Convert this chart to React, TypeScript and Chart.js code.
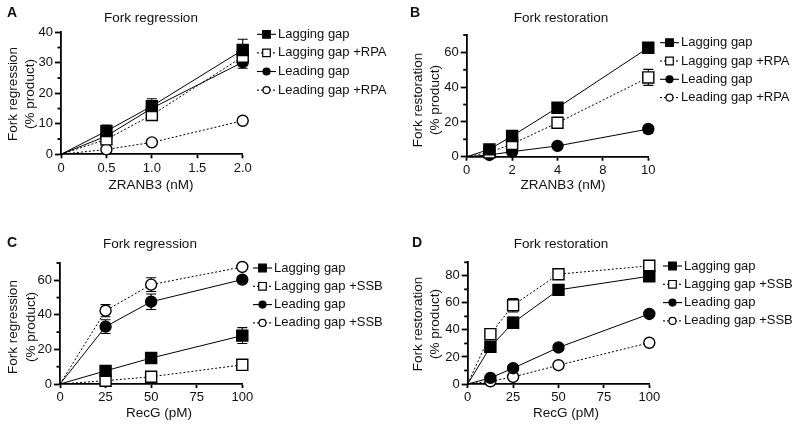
import React, { useEffect, useRef } from "react";
import { Chart, registerables } from "chart.js";
Chart.register(...registerables);

const FONT = "'Liberation Sans', Arial, Helvetica, sans-serif";
const INK = "#111";

// ---------- Panel A ----------
const aTitle = "Fork regression";
const aXTitle = "ZRANB3 (nM)";
const aYTitle = ["Fork regression", "(% product)"];
const aSeries = ["Lagging gap", "Lagging gap +RPA", "Leading gap", "Leading gap +RPA"];
const aXTicks = [0, 0.5, 1, 1.5, 2];
const aXTickLabels = ["0", "0.5", "1.0", "1.5", "2.0"];
const aYTicks = [0, 10, 20, 30, 40];
const aYMinor = [5, 15, 25, 35];
const aDoses = [0, 0.5, 1.0, 2.0];
const aLagging = [0, 7.6, 15.8, 34.2];
const aLaggingErr = [0, 2.0, 2.4, 3.5];
const aLaggingRpa = [0, 4.9, 12.9, 32.0];
const aLaggingRpaErr = [0, 0.8, 1.0, 1.5];
const aLeading = [0, 6.0, 15.1, 30.2];
const aLeadingErr = [0, 0.8, 1.2, 2.0];
const aLeadingRpa = [0, 1.6, 3.9, 11.0];
const aLeadingRpaErr = [0, 0.3, 0.4, 0.6];

// ---------- Panel B ----------
const bTitle = "Fork restoration";
const bXTitle = "ZRANB3 (nM)";
const bYTitle = ["Fork restoration", "(% product)"];
const bSeries = ["Lagging gap", "Lagging gap +RPA", "Leading gap", "Leading gap +RPA"];
const bXTicks = [0, 2, 4, 8, 10];
const bXTickLabels = ["0", "2", "4", "8", "10"];
const bYTicks = [0, 20, 40, 60];
const bYMinor = [10, 30, 50, 70];
const bDoses = [0, 1, 2, 4, 10];
const bLagging = [0, 4.2, 11.9, 28.2, 62.7];
const bLaggingErr = [0, 0.8, 1.2, 2.0, 2.8];
const bLaggingRpa = [0, 2.5, 7.3, 19.5, 45.6];
const bLaggingRpaErr = [0, 0.5, 0.8, 1.2, 4.6];
const bLeading = [0, 1.0, 2.9, 6.2, 15.9];
const bLeadingErr = [0, 0.3, 0.5, 0.8, 2.2];
const bLeadingRpa: (number | null)[] = [null, null, null, null, null];
const bLeadingRpaErr = [0, 0, 0, 0, 0];

// ---------- Panel C ----------
const cTitle = "Fork regression";
const cXTitle = "RecG (pM)";
const cYTitle = ["Fork regression", "(% product)"];
const cSeries = ["Lagging gap", "Lagging gap +SSB", "Leading gap", "Leading gap +SSB"];
const cXTicks = [0, 25, 50, 75, 100];
const cXTickLabels = ["0", "25", "50", "75", "100"];
const cYTicks = [0, 20, 40, 60];
const cYMinor = [10, 30, 50, 70];
const cDoses = [0, 25, 50, 100];
const cLagging = [0, 7.6, 15.0, 28.0];
const cLaggingErr = [0, 1.0, 1.2, 4.6];
const cLaggingSsb = [0, 1.9, 4.2, 11.1];
const cLaggingSsbErr = [0, 0.5, 0.8, 1.8];
const cLeading = [0, 33.2, 47.6, 60.4];
const cLeadingErr = [0, 4.0, 4.5, 1.2];
const cLeadingSsb = [0, 42.4, 57.5, 67.7];
const cLeadingSsbErr = [0, 3.5, 4.0, 0.8];

// ---------- Panel D ----------
const dTitle = "Fork restoration";
const dXTitle = "RecG (pM)";
const dYTitle = ["Fork restoration", "(% product)"];
const dSeries = ["Lagging gap", "Lagging gap +SSB", "Leading gap", "Leading gap +SSB"];
const dXTicks = [0, 25, 50, 75, 100];
const dXTickLabels = ["0", "25", "50", "75", "100"];
const dYTicks = [0, 20, 40, 60, 80];
const dYMinor = [10, 30, 50, 70, 90];
const dDoses = [0, 12.5, 25, 50, 100];
const dLagging = [0, 27.5, 45.3, 69.6, 79.7];
const dLaggingErr = [0, 3.0, 4.0, 1.5, 1.5];
const dLaggingSsb = [0, 36.9, 58.2, 81.2, 87.4];
const dLaggingSsbErr = [0, 3.0, 5.0, 1.5, 1.0];
const dLeading = [0, 4.5, 11.7, 27.0, 51.8];
const dLeadingErr = [0, 1.0, 1.0, 1.0, 1.5];
const dLeadingSsb = [0, 2.0, 5.2, 13.9, 30.5];
const dLeadingSsbErr = [0, 0.5, 0.5, 1.0, 1.0];

// marker/line styles per series slot
const STYLES = [
  { shape: "rect", fill: "#000", dash: [] as number[] },
  { shape: "rect", fill: "#fff", dash: [2, 2] },
  { shape: "circle", fill: "#000", dash: [] as number[] },
  { shape: "circle", fill: "#fff", dash: [2, 2] },
];

type Panel = {
  letter: string;
  box: { x: number; y: number; w: number; h: number };
  area: { l: number; r: number; t: number; b: number };
  letterPos: { x: number; y: number };
  titlePos: { x: number; y: number };
  yTitlePos: { x1: number; x2: number; y: number };
  xTitlePos: { x: number; y: number };
  legendPos: { x: number; y: number; step: number };
  title: string;
  xTitle: string;
  yTitle: string[];
  names: string[];
  xTicks: number[];
  xTickLabels: string[];
  segmented: boolean;
  yTicks: number[];
  yMinor: number[];
  yMax: number;
  doses: number[];
  values: (number | null)[][];
  errors: number[][];
};

const panels: Panel[] = [
  {
    letter: "A",
    box: { x: 0, y: 0, w: 400, h: 213 },
    area: { l: 61, r: 242.7, t: 32.3, b: 154.3 },
    letterPos: { x: 7, y: 13 },
    titlePos: { x: 151, y: 18 },
    yTitlePos: { x1: 13, x2: 30, y: 94 },
    xTitlePos: { x: 151, y: 185 },
    legendPos: { x: 257, y: 34.3, step: 18.6 },
    title: aTitle, xTitle: aXTitle, yTitle: aYTitle, names: aSeries,
    xTicks: aXTicks, xTickLabels: aXTickLabels, segmented: false,
    yTicks: aYTicks, yMinor: aYMinor, yMax: 40,
    doses: aDoses,
    values: [aLagging, aLaggingRpa, aLeading, aLeadingRpa],
    errors: [aLaggingErr, aLaggingRpaErr, aLeadingErr, aLeadingRpaErr],
  },
  {
    letter: "B",
    box: { x: 400, y: 0, w: 400, h: 213 },
    area: { l: 66.7, r: 248.3, t: 35, b: 156.7 },
    letterPos: { x: 10, y: 13 },
    titlePos: { x: 161, y: 18 },
    yTitlePos: { x1: 18, x2: 35, y: 100 },
    xTitlePos: { x: 163, y: 185 },
    legendPos: { x: 260, y: 42.7, step: 18.3 },
    title: bTitle, xTitle: bXTitle, yTitle: bYTitle, names: bSeries,
    xTicks: bXTicks, xTickLabels: bXTickLabels, segmented: true,
    yTicks: bYTicks, yMinor: bYMinor, yMax: 70,
    doses: bDoses,
    values: [bLagging, bLaggingRpa, bLeading, bLeadingRpa],
    errors: [bLaggingErr, bLaggingRpaErr, bLeadingErr, bLeadingRpaErr],
  },
  {
    letter: "C",
    box: { x: 0, y: 213, w: 400, h: 214 },
    area: { l: 60, r: 242.3, t: 50, b: 171 },
    letterPos: { x: 7, y: 30 },
    titlePos: { x: 150, y: 31.7 },
    yTitlePos: { x1: 13, x2: 31, y: 114 },
    xTitlePos: { x: 159, y: 200 },
    legendPos: { x: 253, y: 55, step: 18.3 },
    title: cTitle, xTitle: cXTitle, yTitle: cYTitle, names: cSeries,
    xTicks: cXTicks, xTickLabels: cXTickLabels, segmented: false,
    yTicks: cYTicks, yMinor: cYMinor, yMax: 70,
    doses: cDoses,
    values: [cLagging, cLaggingSsb, cLeading, cLeadingSsb],
    errors: [cLaggingErr, cLaggingSsbErr, cLeadingErr, cLeadingSsbErr],
  },
  {
    letter: "D",
    box: { x: 400, y: 213, w: 400, h: 214 },
    area: { l: 67.7, r: 249.3, t: 49.3, b: 171 },
    letterPos: { x: 12, y: 30 },
    titlePos: { x: 161, y: 31.7 },
    yTitlePos: { x1: 18, x2: 35, y: 111 },
    xTitlePos: { x: 166, y: 200 },
    legendPos: { x: 263, y: 53, step: 18.3 },
    title: dTitle, xTitle: dXTitle, yTitle: dYTitle, names: dSeries,
    xTicks: dXTicks, xTickLabels: dXTickLabels, segmented: false,
    yTicks: dYTicks, yMinor: dYMinor, yMax: 90,
    doses: dDoses,
    values: [dLagging, dLaggingSsb, dLeading, dLeadingSsb],
    errors: [dLaggingErr, dLaggingSsbErr, dLeadingErr, dLeadingSsbErr],
  },
];

// position on the x scale (segmented axis: ticks equally spaced)
function xPos(p: Panel, v: number): number {
  if (!p.segmented) return v;
  const t = p.xTicks;
  for (let i = 0; i < t.length - 1; i++) {
    if (v <= t[i + 1]) return i + (v - t[i]) / (t[i + 1] - t[i]);
  }
  return t.length - 1;
}

function drawMarker(ctx: CanvasRenderingContext2D, shape: string, fill: string, x: number, y: number, half: number, lw: number) {
  ctx.save();
  ctx.setLineDash([]);
  ctx.lineWidth = lw;
  ctx.strokeStyle = "#000";
  ctx.fillStyle = fill;
  ctx.beginPath();
  if (shape === "rect") ctx.rect(x - half, y - half, half * 2, half * 2);
  else ctx.arc(x, y, half, 0, Math.PI * 2);
  ctx.fill();
  ctx.stroke();
  ctx.restore();
}

function makeConfig(p: Panel): any {
  const W = p.box.w, H = p.box.h;
  const ticksPos = p.xTicks.map((v) => xPos(p, v));
  const datasets = p.values.map((vals, si) => {
    const st = STYLES[si];
    return {
      label: p.names[si],
      data: p.doses.map((d, i) => ({ x: xPos(p, d), y: vals[i] })),
      errors: p.errors[si],
      borderColor: "#000",
      borderWidth: 1,
      borderDash: st.dash,
      pointStyle: st.shape === "rect" ? "rect" : "circle",
      pointRadius: (c: any) => (c.dataIndex === 0 ? 0 : st.shape === "rect" ? 7.8 : 5.5),
      pointBackgroundColor: st.fill,
      pointBorderColor: "#000",
      pointBorderWidth: 1.4,
      tension: 0,
      fill: false,
      clip: false,
      spanGaps: false,
    };
  });

  const errorBars = {
    id: "errorBars",
    beforeDatasetsDraw(chart: any) {
      const ctx = chart.ctx;
      const ys = chart.scales.y;
      ctx.save();
      ctx.strokeStyle = "#000";
      ctx.lineWidth = 1.1;
      ctx.setLineDash([]);
      chart.data.datasets.forEach((ds: any, di: number) => {
        const meta = chart.getDatasetMeta(di);
        meta.data.forEach((el: any, i: number) => {
          const v = ds.data[i].y;
          const e = ds.errors[i];
          if (i === 0 || v == null || !e) return;
          const x = el.x;
          const yt = ys.getPixelForValue(v + e);
          const yb = ys.getPixelForValue(Math.max(0, v - e));
          ctx.beginPath();
          ctx.moveTo(x, yt); ctx.lineTo(x, yb);
          ctx.moveTo(x - 5, yt); ctx.lineTo(x + 5, yt);
          ctx.moveTo(x - 5, yb); ctx.lineTo(x + 5, yb);
          ctx.stroke();
        });
      });
      ctx.restore();
    },
  };

  const decorations = {
    id: "decorations",
    afterDraw(chart: any) {
      const ctx: CanvasRenderingContext2D = chart.ctx;
      const ys = chart.scales.y;
      const left = chart.chartArea.left;
      ctx.save();
      // minor y ticks
      ctx.strokeStyle = "#000";
      ctx.lineWidth = 1.8;
      p.yMinor.forEach((v) => {
        const y = ys.getPixelForValue(v);
        ctx.beginPath();
        ctx.moveTo(left - 3.5, y);
        ctx.lineTo(left, y);
        ctx.stroke();
      });
      ctx.fillStyle = INK;
      // panel letter
      ctx.font = `bold 14px ${FONT}`;
      ctx.textAlign = "left";
      ctx.textBaseline = "middle";
      ctx.fillText(p.letter, p.letterPos.x, p.letterPos.y);
      // title
      ctx.font = `13.5px ${FONT}`;
      ctx.textAlign = "center";
      ctx.fillText(p.title, p.titlePos.x, p.titlePos.y);
      // x title
      ctx.fillText(p.xTitle, p.xTitlePos.x, p.xTitlePos.y);
      // y title (rotated, two lines)
      [p.yTitlePos.x1, p.yTitlePos.x2].forEach((x, i) => {
        ctx.save();
        ctx.translate(x, p.yTitlePos.y);
        ctx.rotate(-Math.PI / 2);
        ctx.fillText(p.yTitle[i], 0, 0);
        ctx.restore();
      });
      // legend
      ctx.font = `13px ${FONT}`;
      ctx.textAlign = "left";
      p.names.forEach((name, i) => {
        const st = STYLES[i];
        const y = p.legendPos.y + i * p.legendPos.step;
        const x0 = p.legendPos.x;
        ctx.save();
        ctx.strokeStyle = "#000";
        ctx.lineWidth = 1.1;
        ctx.setLineDash(st.dash);
        ctx.beginPath();
        ctx.moveTo(x0, y);
        ctx.lineTo(x0 + 19, y);
        ctx.stroke();
        ctx.restore();
        drawMarker(ctx, st.shape, st.fill, x0 + 9.5, y, st.shape === "rect" ? 3.8 : 3.5, 1.2);
        ctx.fillStyle = INK;
        ctx.fillText(name, x0 + 21, y);
      });
      ctx.restore();
    },
  };

  const tickFont = { family: FONT, size: 13 };
  return {
    type: "line",
    data: { datasets },
    options: {
      animation: false,
      responsive: false,
      devicePixelRatio: 1,
      events: [],
      layout: { padding: { left: 0, top: p.area.t, right: W - p.area.r, bottom: 0 } },
      plugins: { legend: { display: false }, title: { display: false }, tooltip: { enabled: false } },
      scales: {
        x: {
          type: "linear",
          min: 0,
          max: ticksPos[ticksPos.length - 1],
          afterBuildTicks: (s: any) => { s.ticks = ticksPos.map((v) => ({ value: v })); },
          afterFit: (s: any) => { s.height = H - p.area.b; },
          ticks: {
            autoSkip: false, maxRotation: 0, padding: 2, color: INK, font: tickFont,
            callback: (_v: any, i: number) => p.xTickLabels[i],
          },
          grid: { display: true, drawOnChartArea: false, drawTicks: true, tickLength: 4, tickWidth: 1.8, tickColor: "#000" },
          border: { display: true, color: "#000", width: 1.8 },
        },
        y: {
          type: "linear",
          min: 0,
          max: p.yMax,
          afterBuildTicks: (s: any) => { s.ticks = p.yTicks.map((v) => ({ value: v })); },
          afterFit: (s: any) => { s.width = p.area.l; },
          ticks: {
            autoSkip: false, padding: 2, color: INK, font: tickFont,
            callback: (v: any) => String(v),
          },
          grid: { display: true, drawOnChartArea: false, drawTicks: true, tickLength: 6, tickWidth: 1.8, tickColor: "#000" },
          border: { display: true, color: "#000", width: 1.8 },
        },
      },
    },
    plugins: [errorBars, decorations],
  };
}

function PanelChart({ p }: { p: Panel }) {
  const ref = useRef<HTMLCanvasElement>(null);
  useEffect(() => {
    if (!ref.current) return;
    const chart = new Chart(ref.current, makeConfig(p));
    return () => chart.destroy();
  }, [p]);
  return (
    <canvas
      ref={ref}
      width={p.box.w}
      height={p.box.h}
      style={{ position: "absolute", left: p.box.x, top: p.box.y, width: p.box.w, height: p.box.h }}
    />
  );
}

export default function App() {
  return (
    <div style={{ position: "absolute", left: 0, top: 0, width: 800, height: 427, background: "#fff", overflow: "hidden" }}>
      {panels.map((p) => (
        <PanelChart key={p.letter} p={p} />
      ))}
    </div>
  );
}
